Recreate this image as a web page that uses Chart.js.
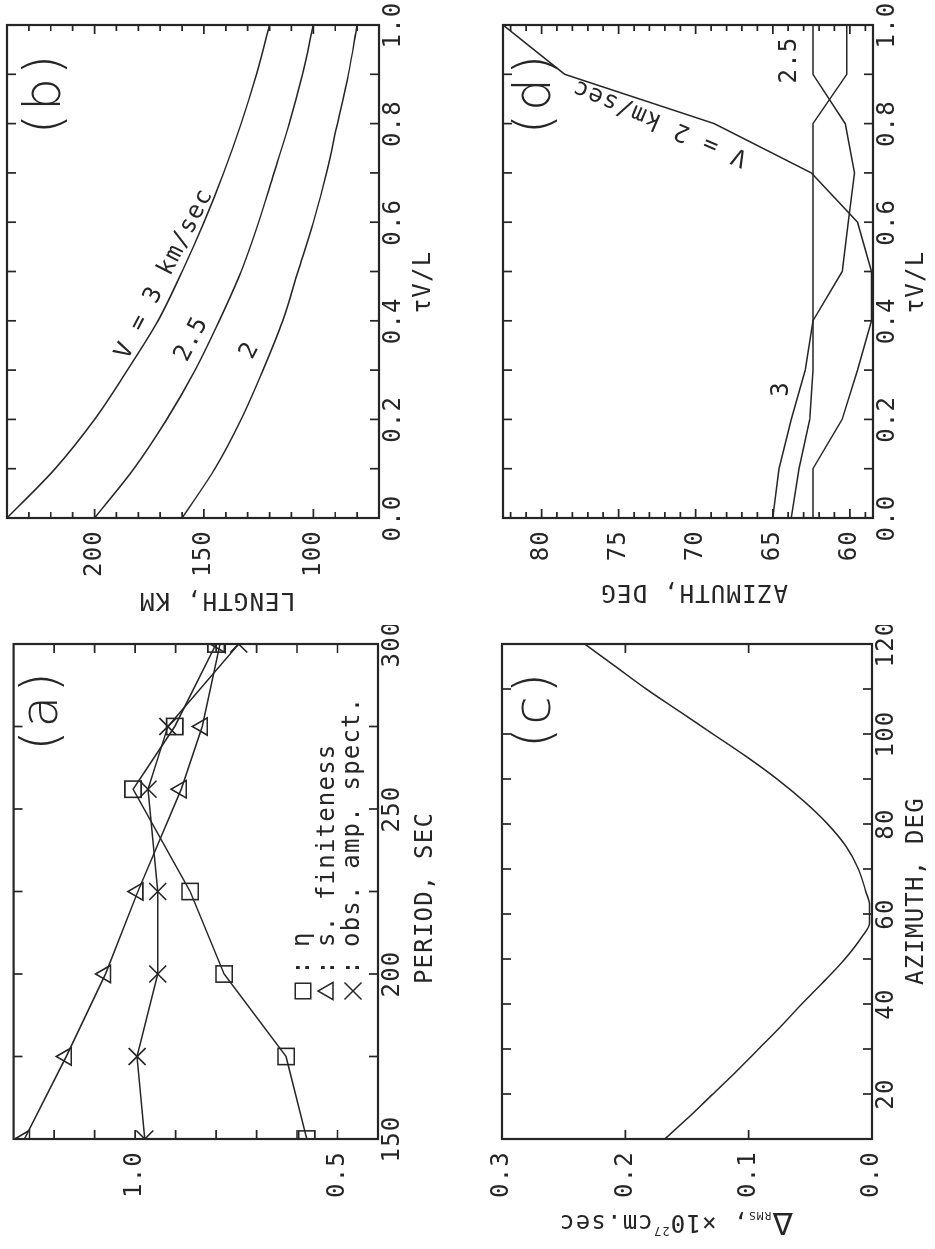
<!DOCTYPE html>
<html>
<head>
<meta charset="utf-8">
<title>Source finiteness, rupture length and azimuth</title>
<script src="https://cdn.jsdelivr.net/npm/chart.js@4.4.1/dist/chart.umd.min.js"></script>
<style>
  html, body { margin: 0; padding: 0; background: #fff; overflow: hidden; }
  body { width: 935px; height: 1249px; position: relative; }
  /* the four panels are laid out landscape, then the sheet is turned a quarter turn counter-clockwise */
  #sheet { position: absolute; left: 0; top: 0; width: 1249px; height: 935px;
           transform-origin: 0 0; transform: translate(0, 1249px) rotate(-90deg); background: #fff; }
  #sheet canvas { position: absolute; }
</style>
</head>
<body>
<div id="sheet">
  <canvas id="panelA" width="624" height="467" style="left:0;top:0"></canvas>
  <canvas id="panelB" width="625" height="467" style="left:624px;top:0"></canvas>
  <canvas id="panelC" width="624" height="468" style="left:0;top:467px"></canvas>
  <canvas id="panelD" width="625" height="468" style="left:624px;top:467px"></canvas>
</div>
<script>
// ---------- (a) ratios against period ----------
const PERIODS = [150, 175, 200, 225, 256, 275, 300];
const ETA = [0.576, 0.627, 0.780, 0.864, 1.005, 0.902, 0.800];
const S_FINITENESS = [1.273, 1.170, 1.073, 0.993, 0.886, 0.834, 0.790];
const OBS_AMP_SPECT = [0.976, 0.995, 0.944, 0.944, 0.968, 0.919, 0.744];
const PERIOD_TICKS = [175, 200, 225, 250, 275];
const PERIOD_LABELS = [150, 200, 250, 300];
const RATIO_TICKS = [0.5, 0.6, 0.7, 0.8, 0.9, 1.0, 1.1, 1.2];
const RATIO_LABELS = [0.5, 1.0];

// ---------- (b) fault length against tau*V/L ----------
const TAU_VL = [0, 0.1, 0.2, 0.3, 0.4, 0.5, 0.6, 0.7, 0.8, 0.9, 1.0];
const LENGTH_V3 = [240, 218, 200, 185, 171, 160, 150, 141, 133, 126, 120];
const LENGTH_V25 = [200, 182, 167, 154, 143, 133, 125, 118, 111, 105, 100];
const LENGTH_V2 = [160, 145, 133, 123, 114, 107, 100, 94, 89, 84, 80];
const TAU_TICKS = [0.1, 0.2, 0.3, 0.4, 0.5, 0.6, 0.7, 0.8, 0.9];
const TAU_LABELS = [0, 0.2, 0.4, 0.6, 0.8, 1.0];
const LENGTH_TICKS = [80, 90, 100, 110, 120, 130, 140, 150, 160, 170, 180, 190, 200, 210, 220, 230];
const LENGTH_MAJOR = [100, 150, 200];
const LENGTH_LABELS = [100, 150, 200];

// ---------- (c) rms misfit against fault azimuth ----------
const AZIMUTHS = [10, 15, 20, 25, 30, 35, 40, 45, 50, 55, 58, 62, 65, 70, 75, 80, 85, 90, 95, 100, 105, 110, 115, 120];
const DELTA_RMS = [0.168, 0.148, 0.129, 0.110, 0.092, 0.074, 0.057, 0.039, 0.022, 0.008, 0.002, 0.002, 0.005, 0.011, 0.021, 0.036, 0.055, 0.077, 0.102, 0.129, 0.156, 0.183, 0.208, 0.233];
const AZIMUTH_TICKS = [20, 30, 40, 50, 60, 70, 80, 90, 100, 110];
const AZIMUTH_LABELS = [20, 40, 60, 80, 100, 120];
const RMS_TICKS = [0.1, 0.2];
const RMS_LABELS = [0.0, 0.1, 0.2, 0.3];

// ---------- (d) best azimuth against tau*V/L ----------
const AZ_V2 = [62.4, 62.4, 60.5, 59.5, 58.6, 58.6, 59.5, 62.5, 68.8, 78.5, 82.5];
const AZ_V25 = [63.8, 63.3, 62.6, 62.4, 62.4, 60.5, 60.1, 59.7, 60.3, 62.4, 62.4];
const AZ_V3 = [65.0, 64.6, 63.8, 62.9, 62.4, 62.4, 62.4, 62.4, 62.4, 60.2, 60.2];
const AZDEG_TICKS = [59, 60, 61, 62, 63, 64, 65, 66, 67, 68, 69, 70, 71, 72, 73, 74, 75, 76, 77, 78, 79, 80, 81, 82];
const AZDEG_MAJOR = [60, 65, 70, 75, 80];
const AZDEG_LABELS = [60, 65, 70, 75, 80];

const INK = '#262626';
const MONO = "'DejaVu Sans Mono', 'Liberation Mono', monospace";
const SANS = "'DejaVu Sans', 'Liberation Sans', sans-serif";
const TRACK = '1.2px';

const pts = (xs, ys) => xs.map((x, i) => ({ x, y: ys[i] }));

function marker(ctx, style, r, x, y) {
  ctx.beginPath();
  if (style === 'rect') {
    const s = r * Math.SQRT1_2;
    ctx.rect(x - s, y - s, 2 * s, 2 * s);
  } else if (style === 'triangle') {
    let ang = 0;
    ctx.moveTo(x + Math.sin(ang) * r, y - Math.cos(ang) * r);
    ang += 2 * Math.PI / 3; ctx.lineTo(x + Math.sin(ang) * r, y - Math.cos(ang) * r);
    ang += 2 * Math.PI / 3; ctx.lineTo(x + Math.sin(ang) * r, y - Math.cos(ang) * r);
    ctx.closePath();
  } else if (style === 'crossRot') {
    const d = r * Math.SQRT1_2;
    ctx.moveTo(x - d, y - d); ctx.lineTo(x + d, y + d);
    ctx.moveTo(x - d, y + d); ctx.lineTo(x + d, y - d);
  }
  ctx.stroke();
}

// frame with inward ticks on all four sides, plus titles, curve labels and legend
function decor(cfg) {
  return {
    id: 'decor',
    beforeDraw(chart) { chart.ctx.letterSpacing = TRACK; },
    afterDatasetsDraw(chart) {
      const { ctx, chartArea: a } = chart;
      const sx = chart.scales.x, sy = chart.scales.y;
      const major = 9, minor = 6;
      ctx.save();
      ctx.strokeStyle = INK;
      ctx.lineWidth = 1.7;
      ctx.beginPath();
      const seg = (x1, y1, x2, y2) => { ctx.moveTo(x1, y1); ctx.lineTo(x2, y2); };
      (cfg.xTicks || []).forEach(v => {
        const len = cfg.xMajor ? (cfg.xMajor.includes(v) ? major : minor) : major;
        const p = sx.getPixelForValue(v);
        seg(p, a.bottom, p, a.bottom - len); seg(p, a.top, p, a.top + len);
      });
      (cfg.yTicks || []).forEach(v => {
        const len = cfg.yMajor ? (cfg.yMajor.includes(v) ? major : minor) : major;
        const p = sy.getPixelForValue(v);
        seg(a.left, p, a.left + len, p); seg(a.right, p, a.right - len, p);
      });
      ctx.stroke();
      ctx.lineWidth = 2.2;
      ctx.strokeRect(a.left, a.top, a.right - a.left, a.bottom - a.top);
      ctx.restore();
    },
    afterDraw(chart) {
      const ctx = chart.ctx;
      const sx = chart.scales.x, sy = chart.scales.y;
      (cfg.items || []).forEach(n => {
        const x = n.at ? sx.getPixelForValue(n.at[0]) : n.px[0];
        const y = n.at ? sy.getPixelForValue(n.at[1]) : n.px[1];
        ctx.save();
        ctx.translate(x, y);
        ctx.rotate((n.rot || 0) * Math.PI / 180);
        ctx.fillStyle = INK;
        ctx.textBaseline = 'middle';
        ctx.letterSpacing = n.track || TRACK;
        if (n.rich) {
          ctx.textAlign = 'left';
          let w = 0;
          n.rich.forEach(p => { ctx.font = `${p.size}px ${p.family || MONO}`; w += ctx.measureText(p.t).width; });
          let cx = -w / 2;
          n.rich.forEach(p => {
            ctx.font = `${p.size}px ${p.family || MONO}`;
            ctx.fillText(p.t, cx, p.dy || 0);
            cx += ctx.measureText(p.t).width;
          });
        } else {
          ctx.font = `${n.weight || 400} ${n.size || 24}px ${n.family || MONO}`;
          ctx.textAlign = n.align || 'center';
          ctx.fillText(n.text, 0, 0);
        }
        ctx.restore();
      });
      (cfg.legend || []).forEach(l => {
        ctx.save();
        ctx.strokeStyle = INK; ctx.lineWidth = 1.5;
        marker(ctx, l.style, l.r, l.px[0], l.px[1]);
        ctx.fillStyle = INK;
        ctx.letterSpacing = TRACK;
        ctx.font = `24px ${MONO}`;
        ctx.textBaseline = 'middle';
        ctx.textAlign = 'center';
        ctx.fillText(':', l.px[0] + 24, l.px[1]);
        ctx.textAlign = 'left';
        ctx.fillText(l.text, l.px[0] + 44, l.px[1]);
        ctx.restore();
      });
    }
  };
}

function noPad(s) { s.paddingTop = 0; s.paddingBottom = 0; s.paddingLeft = 0; s.paddingRight = 0; }
function xAxis(min, max, labels, fmt, height, pad) {
  return {
    type: 'linear', position: 'bottom', min, max,
    grid: { display: false, drawTicks: false }, border: { display: false },
    afterBuildTicks: s => { s.ticks = labels.map(v => ({ value: v })); },
    afterFit: s => { s.height = height; noPad(s); },
    ticks: { font: { family: MONO, size: 24 }, color: INK, padding: pad, maxRotation: 0, autoSkip: false, callback: fmt }
  };
}
function yAxis(min, max, labels, fmt, width, pad) {
  return {
    type: 'linear', position: 'left', min, max,
    grid: { display: false, drawTicks: false }, border: { display: false },
    afterBuildTicks: s => { s.ticks = labels.map(v => ({ value: v })); },
    afterFit: s => { s.width = width; noPad(s); },
    ticks: { font: { family: MONO, size: 24 }, color: INK, padding: pad, autoSkip: false, callback: fmt }
  };
}
function curve(data, smooth) {
  return {
    data, borderColor: INK, borderWidth: 1.5, pointRadius: 0, fill: false,
    cubicInterpolationMode: smooth ? 'monotone' : 'default', tension: 0
  };
}
function symbols(data, style, r) {
  return {
    data, borderColor: INK, borderWidth: 1.5, fill: false, tension: 0,
    pointStyle: style, pointRadius: r, pointBorderWidth: 1.6,
    pointBackgroundColor: 'rgba(0,0,0,0)', pointBorderColor: INK
  };
}
const base = (padding, scales) => ({
  responsive: false, animation: false, devicePixelRatio: 1,
  layout: { padding },
  scales,
  plugins: { legend: { display: false }, tooltip: { enabled: false } }
});
const f1 = v => v.toFixed(1);
const f0 = v => v.toFixed(0);
const panelTag = (text, px) => ({ text, px, size: 52, weight: 200, family: SANS, track: '3px' });

// (a)
new Chart(document.getElementById('panelA'), {
  type: 'line',
  data: { datasets: [
    symbols(pts(PERIODS, ETA), 'rect', 11.5),
    symbols(pts(PERIODS, S_FINITENESS), 'triangle', 10),
    symbols(pts(PERIODS, OBS_AMP_SPECT), 'crossRot', 12)
  ] },
  options: base({ top: 7, right: 19, left: 0, bottom: 0 }, {
    x: xAxis(150, 300, PERIOD_LABELS, f0, 89, 0),
    y: yAxis(0.4, 1.3, RATIO_LABELS, f1, 110, 12)
  }),
  plugins: [decor({
    xTicks: PERIOD_TICKS, yTicks: RATIO_TICKS,
    items: [
      { text: 'PERIOD, SEC', px: [351, 426] },
      panelTag('(a)', [539, 43])
    ],
    legend: [
      { style: 'rect', r: 11, px: [258, 303], text: 'η' },
      { style: 'triangle', r: 10, px: [258, 328], text: 's. finiteness' },
      { style: 'crossRot', r: 12, px: [258, 353], text: 'obs. amp. spect.' }
    ]
  })]
});

// (b)
new Chart(document.getElementById('panelB'), {
  type: 'line',
  data: { datasets: [
    curve(pts(TAU_VL, LENGTH_V3), true),
    curve(pts(TAU_VL, LENGTH_V25), true),
    curve(pts(TAU_VL, LENGTH_V2), true)
  ] },
  options: base({ top: 7, right: 25, left: 0, bottom: 0 }, {
    x: xAxis(0, 1, TAU_LABELS, f1, 88, 0),
    y: yAxis(70, 240, LENGTH_LABELS, f0, 107, 12)
  }),
  plugins: [decor({
    xTicks: TAU_TICKS, yTicks: LENGTH_TICKS, yMajor: LENGTH_MAJOR,
    items: [
      { text: 'LENGTH, KM', px: [26, 217], rot: -90 },
      { text: 'τV/L', px: [343, 424] },
      panelTag('(b)', [532, 46]),
      { text: 'V = 3 km/sec', at: [0.495, 168], rot: 27 },
      { text: '2.5', at: [0.363, 155.5], rot: 27 },
      { text: '2', at: [0.34, 129], rot: 27 }
    ]
  })]
});

// (c)
new Chart(document.getElementById('panelC'), {
  type: 'line',
  data: { datasets: [ curve(pts(AZIMUTHS, DELTA_RMS), true) ] },
  options: base({ top: 35, right: 19, left: 0, bottom: 0 }, {
    x: xAxis(10, 120, AZIMUTH_LABELS, f0, 63, 0),
    y: yAxis(0, 0.3, RMS_LABELS, f1, 110, 12)
  }),
  plugins: [decor({
    xTicks: AZIMUTH_TICKS, yTicks: RMS_TICKS,
    items: [
      { text: 'AZIMUTH, DEG', px: [358, 450] },
      panelTag('(c)', [540, 69]),
      { px: [28, 209], rot: -90, rich: [
        { t: 'Δ', size: 30, family: SANS },
        { t: 'RMS', size: 11, dy: 6 },
        { t: ', ×10', size: 24 },
        { t: '27', size: 12, dy: -9 },
        { t: 'cm.sec', size: 24 }
      ] }
    ]
  })]
});

// (d)
new Chart(document.getElementById('panelD'), {
  type: 'line',
  data: { datasets: [
    curve(pts(TAU_VL, AZ_V2), false),
    curve(pts(TAU_VL, AZ_V25), false),
    curve(pts(TAU_VL, AZ_V3), false)
  ] },
  options: base({ top: 36, right: 25, left: 0, bottom: 0 }, {
    x: xAxis(0, 1, TAU_LABELS, f1, 62, 0),
    y: yAxis(58.5, 82.5, AZDEG_LABELS, f0, 107, 12)
  }),
  plugins: [decor({
    xTicks: TAU_TICKS, yTicks: AZDEG_TICKS, yMajor: AZDEG_MAJOR,
    items: [
      { text: 'AZIMUTH, DEG', px: [34, 227], rot: -90 },
      { text: 'τV/L', px: [343, 450] },
      panelTag('(d)', [532, 69]),
      { text: 'V = 2 km/sec', at: [0.803, 72.3], rot: -67 },
      { text: '3', at: [0.262, 64.4] },
      { text: '2.5', at: [0.929, 63.9] }
    ]
  })]
});
</script>
</body>
</html>
